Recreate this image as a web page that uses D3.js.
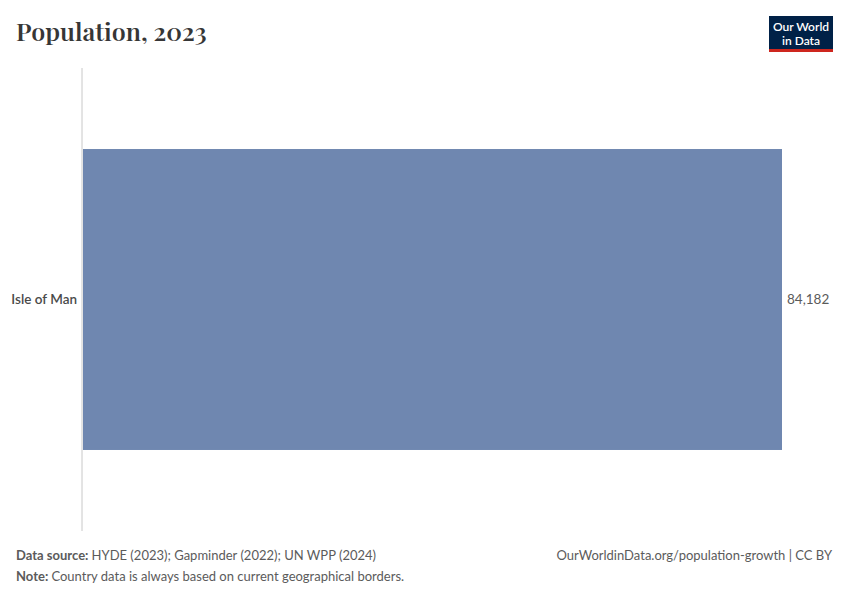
<!DOCTYPE html>
<html>
<head>
<meta charset="utf-8">
<script src="https://cdn.jsdelivr.net/npm/d3@7"></script>
<style>
  body { margin: 0; background: #fff; }
  svg { display: block; }
</style>
</head>
<body>
<svg id="chart" width="850" height="600"></svg>
<script>
// chart data
var countries = ["Isle of Man"]
var population = [84182]

var width = 850
var height = 600
var margin = { top: 68, right: 69, bottom: 69, left: 82 }

var svg = d3.select("#chart")

// title
svg.append("text")
    .attr("x", 16)
    .attr("y", 41)
    .style("font-family", "'Playfair Display', 'Liberation Serif', Georgia, serif")
    .style("font-size", "25px")
    .style("font-weight", "600")
    .style("fill", "#363636")
    .text("Population, 2023")

// logo
var logo = svg.append("g").attr("transform", "translate(769,16)")
logo.append("rect").attr("width", 64).attr("height", 36).attr("fill", "#002147")
logo.append("rect").attr("y", 33).attr("width", 64).attr("height", 3).attr("fill", "#ce261e")
logo.append("text").attr("x", 32).attr("y", 14.5)
    .attr("text-anchor", "middle")
    .style("font-family", "Lato, sans-serif").style("font-size", "12px").style("font-weight", "600")
    .style("fill", "#fff").text("Our World")
logo.append("text").attr("x", 32).attr("y", 28.5)
    .attr("text-anchor", "middle")
    .style("font-family", "Lato, sans-serif").style("font-size", "12px").style("font-weight", "600")
    .style("fill", "#fff").text("in Data")

// scales
var x = d3.scaleLinear()
    .domain([0, d3.max(population)])
    .range([margin.left + 1, 782])

var y = d3.scaleBand()
    .domain(countries)
    .range([margin.top, height - margin.bottom])
    .paddingInner(0.35)
    .paddingOuter(0.173)

// axis line
svg.append("line")
    .attr("x1", margin.left).attr("x2", margin.left)
    .attr("y1", margin.top).attr("y2", height - margin.bottom)
    .attr("stroke", "#c8c8c8")
    .attr("stroke-width", 1)

// bars
svg.append("g").selectAll("rect")
    .data(countries)
    .join("rect")
    .attr("x", x(0))
    .attr("y", d => y(d))
    .attr("width", (d, i) => x(population[i]) - x(0))
    .attr("height", y.bandwidth())
    .attr("fill", "#6f87b0")

// category labels
svg.append("g").selectAll("text")
    .data(countries)
    .join("text")
    .attr("x", margin.left - 5)
    .attr("y", d => y(d) + y.bandwidth() / 2)
    .attr("dy", "0.35em")
    .attr("text-anchor", "end")
    .style("font-family", "Lato, sans-serif")
    .style("font-size", "13.5px")
    .style("font-weight", "600")
    .style("fill", "#4a4a4a")
    .text(d => d)

// value labels
svg.append("g").selectAll("text")
    .data(countries)
    .join("text")
    .attr("x", (d, i) => x(population[i]) + 5)
    .attr("y", d => y(d) + y.bandwidth() / 2)
    .attr("dy", "0.35em")
    .style("font-family", "Lato, sans-serif")
    .style("font-size", "13.5px")
    .style("fill", "#5b5b5b")
    .text((d, i) => d3.format(",")(population[i]))

// footer
var foot = svg.append("g")
    .style("font-family", "Lato, sans-serif")
    .style("font-size", "13px")
    .style("fill", "#5b5b5b")

var src = foot.append("text").attr("x", 16).attr("y", 560)
src.append("tspan").style("font-weight", "700").text("Data source: ")
src.append("tspan").text("HYDE (2023); Gapminder (2022); UN WPP (2024)")

var note = foot.append("text").attr("x", 16).attr("y", 581)
note.append("tspan").style("font-weight", "700").text("Note: ")
note.append("tspan").text("Country data is always based on current geographical borders.")

foot.append("text").attr("x", 832).attr("y", 560)
    .attr("text-anchor", "end")
    .text("OurWorldinData.org/population-growth | CC BY")
</script>
</body>
</html>
